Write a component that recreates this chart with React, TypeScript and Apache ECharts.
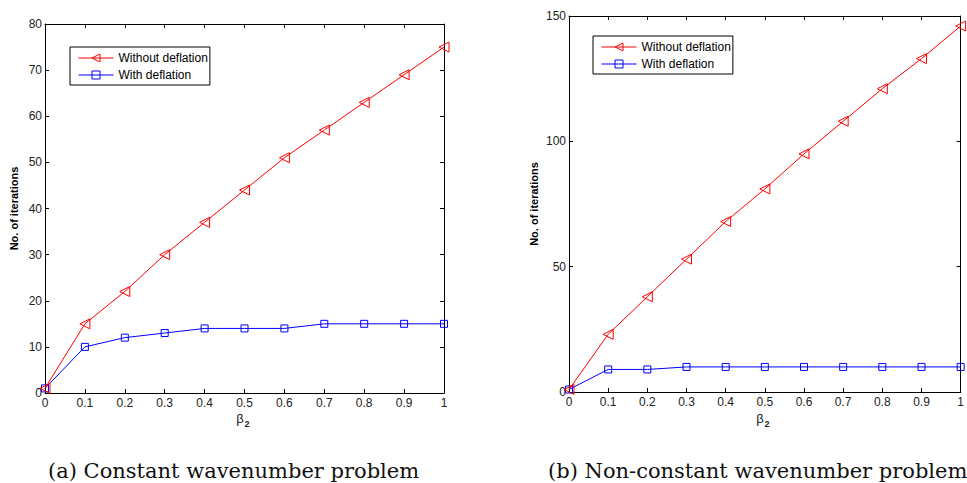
import React, { useEffect, useRef } from "react";
import * as echarts from "echarts";

const xs = [0, 0.1, 0.2, 0.3, 0.4, 0.5, 0.6, 0.7, 0.8, 0.9, 1];
const leftWithout = [1, 15, 22, 30, 37, 44, 51, 57, 63, 69, 75];
const leftWith = [1, 10, 12, 13, 14, 14, 14, 15, 15, 15, 15];
const rightWithout = [1, 23, 38, 53, 68, 81, 95, 108, 121, 133, 146];
const rightWith = [1, 9, 9, 10, 10, 10, 10, 10, 10, 10, 10];
const seriesNames = ["Without deflation", "With deflation"];
const yLabel = "No. of iterations";
const captions = ["(a) Constant wavenumber problem", "(b) Non-constant wavenumber problem"];

const SANS = "Liberation Sans, Arial, Helvetica, sans-serif";
const fmtX = (v: number) => String(Math.round(v * 10) / 10);

function App() {
  const ref = useRef<HTMLDivElement>(null);
  useEffect(() => {
    if (!ref.current) return;
    const chart = echarts.init(ref.current, null, { renderer: "svg" });
    const grids = [
      { left: 45, top: 24, width: 399, height: 369 },
      { left: 569, top: 16, width: 394, height: 376 },
    ];
    const yMax = [80, 150];
    const yInt = [10, 50];
    const nameGaps = [26, 30];
    const xAxis: any[] = [];
    const yAxis: any[] = [];
    grids.forEach((g, i) => {
      xAxis.push({
        type: "value", gridIndex: i, min: 0, max: 1, interval: 0.1,
        axisLine: { show: true, lineStyle: { color: "#000", width: 1 } },
        axisTick: { show: true, inside: true, length: 4, lineStyle: { color: "#000" } },
        axisLabel: { formatter: fmtX, fontFamily: SANS, fontSize: 12, color: "#222", margin: 4 },
        splitLine: { show: false },
      });
      xAxis.push({
        type: "value", gridIndex: i, min: 0, max: 1, interval: 0.1, position: "top",
        axisLine: { show: true, onZero: false, lineStyle: { color: "#000", width: 1 } },
        axisTick: { show: true, inside: true, length: 4, lineStyle: { color: "#000" } },
        axisLabel: { show: false },
        splitLine: { show: false },
      });
      yAxis.push({
        type: "value", gridIndex: i, min: 0, max: yMax[i], interval: yInt[i],
        name: yLabel, nameLocation: "middle", nameGap: nameGaps[i],
        nameTextStyle: { fontFamily: SANS, fontSize: 11, fontWeight: "bold", color: "#000" },
        axisLine: { show: true, lineStyle: { color: "#000", width: 1 } },
        axisTick: { show: true, inside: true, length: 4, lineStyle: { color: "#000" } },
        axisLabel: { fontFamily: SANS, fontSize: 12, color: "#222", margin: 3 },
        splitLine: { show: false },
      });
      yAxis.push({
        type: "value", gridIndex: i, min: 0, max: yMax[i], interval: yInt[i], position: "right",
        axisLine: { show: true, onZero: false, lineStyle: { color: "#000", width: 1 } },
        axisTick: { show: true, inside: true, length: 4, lineStyle: { color: "#000" } },
        axisLabel: { show: false },
        splitLine: { show: false },
      });
    });
    const mk = (name: string, data: number[], i: number, red: boolean) => ({
      type: "line",
      name,
      xAxisIndex: i * 2,
      yAxisIndex: i * 2,
      data: xs.map((x, k) => [x, data[k]]),
      symbol: red ? "triangle" : "rect",
      symbolSize: red ? 10 : 7,
      symbolRotate: red ? 90 : 0,
      showAllSymbol: true,
      clip: false,
      lineStyle: { color: red ? "#ff0000" : "#0000ff", width: 1 },
      itemStyle: { color: "rgba(255,255,255,0)", borderColor: red ? "#ff0000" : "#0000ff", borderWidth: 1 },
      z: red ? 3 : 2,
    });
    const legendBase = {
      orient: "vertical",
      itemWidth: 35,
      itemHeight: 10,
      itemGap: 5,
      borderColor: "#000",
      borderWidth: 1,
      backgroundColor: "#fff",
      padding: [5, 2, 4, 8],
      selectedMode: false,
      itemStyle: { color: "rgba(255,255,255,0)", borderColor: "inherit", borderWidth: 1 },
      lineStyle: { color: "inherit", width: 1 },
      textStyle: { fontFamily: SANS, fontSize: 12, color: "#000" },
      data: seriesNames,
    };
    const subLabel = (cx: number) => ({
      type: "group",
      children: [
        { type: "text", x: cx, y: 418, style: { text: "β", font: `13px ${SANS}`, fill: "#222", align: "center", verticalAlign: "middle" } },
        { type: "text", x: cx + 7, y: 424, style: { text: "2", font: `bold 9px ${SANS}`, fill: "#222", align: "center", verticalAlign: "middle" } },
      ],
    });
    chart.setOption({
      animation: false,
      backgroundColor: "#fff",
      grid: grids,
      xAxis,
      yAxis,
      legend: [
        { ...legendBase, left: 70, top: 47 },
        { ...legendBase, left: 593, top: 36 },
      ],
      series: [
        mk(seriesNames[0], leftWithout, 0, true),
        mk(seriesNames[1], leftWith, 0, false),
        mk(seriesNames[0], rightWithout, 1, true),
        mk(seriesNames[1], rightWith, 1, false),
      ],
      graphic: [
        subLabel(240),
        subLabel(760),
        { type: "text", x: 48, y: 471, style: { text: captions[0], font: `21px "DejaVu Serif", serif`, fill: "#111", align: "left", verticalAlign: "middle" } },
        { type: "text", x: 548, y: 471, style: { text: captions[1], font: `21px "DejaVu Serif", serif`, fill: "#111", align: "left", verticalAlign: "middle" } },
      ],
    });
    return () => chart.dispose();
  }, []);
  return <div ref={ref} style={{ position: "fixed", left: 0, top: 0, width: 967, height: 483 }} />;
}

export default App;
